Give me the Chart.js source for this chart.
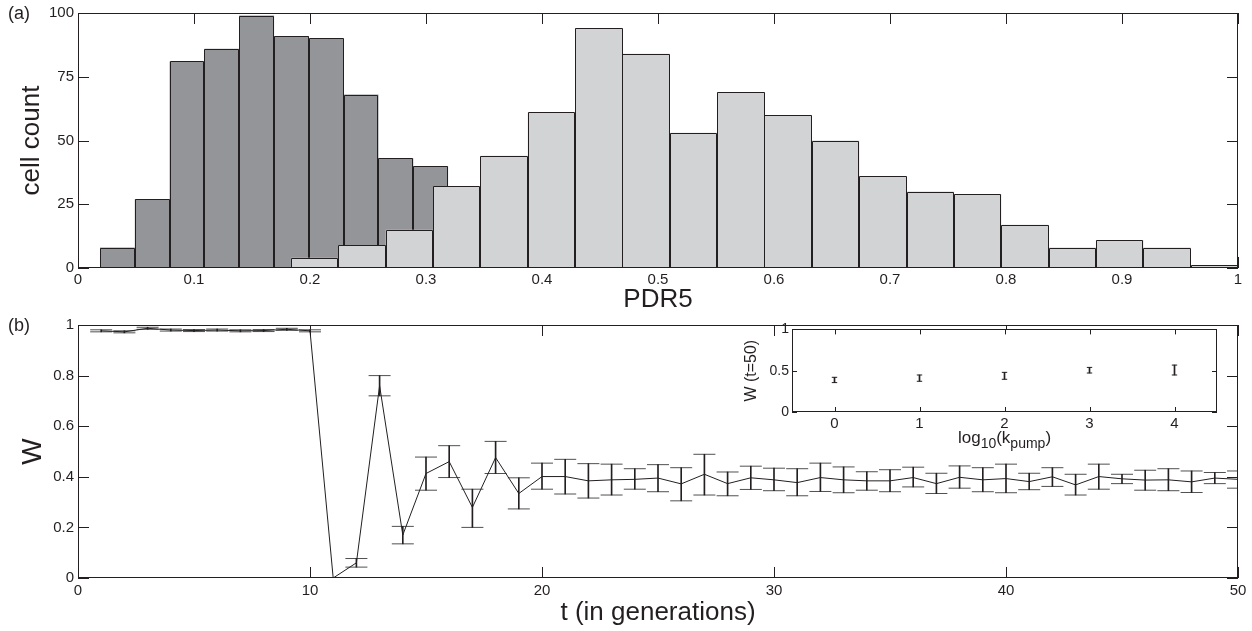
<!DOCTYPE html>
<html>
<head>
<meta charset="utf-8">
<script src="https://cdn.jsdelivr.net/npm/chart.js@4.4.1/dist/chart.umd.min.js"></script>
<style>
html,body{margin:0;padding:0;background:#fff;}
#wrap{position:relative;width:1252px;height:631px;overflow:hidden;background:#fff;}
canvas{position:absolute;}
.lbl{position:absolute;font-family:"Liberation Sans",Arial,Helvetica,sans-serif;font-size:18px;line-height:1;color:#231f20;}
</style>
</head>
<body>
<div id="wrap">
  <canvas id="top" width="1252" height="320" style="left:0;top:0"></canvas>
  <canvas id="bot" width="1252" height="319" style="left:0;top:312px"></canvas>
  <canvas id="ins" width="500" height="140" style="left:740px;top:318px"></canvas>
  <div class="lbl" style="left:8px;top:4px">(a)</div>
  <div class="lbl" style="left:8px;top:316px">(b)</div>
</div>
<script>
// ---------- (a) histogram data ----------
const darkBinCenters = [0.034, 0.064, 0.094, 0.124, 0.154, 0.184, 0.214, 0.244, 0.274, 0.304];
const darkCounts     = [8, 27, 81, 86, 99, 91, 90, 68, 43, 40];
const lightBinCenters = [0.2040, 0.2448, 0.2857, 0.3265, 0.3673, 0.4082, 0.4490, 0.4898, 0.5306, 0.5714,
                         0.6122, 0.6531, 0.6939, 0.7347, 0.7755, 0.8163, 0.8571, 0.8980, 0.9388, 0.9796];
const lightCounts     = [4, 9, 15, 32, 44, 61, 94, 84, 53, 69, 60, 50, 36, 30, 29, 17, 8, 11, 8, 1];
const pdrTicks = [0, 0.1, 0.2, 0.3, 0.4, 0.5, 0.6, 0.7, 0.8, 0.9, 1];
const countTicks = [0, 25, 50, 75, 100];

// ---------- (b) W vs t data ----------
const tGen = [1,2,3,4,5,6,7,8,9,10,11,12,13,14,15,16,17,18,19,20,21,22,23,24,25,26,27,28,29,30,
              31,32,33,34,35,36,37,38,39,40,41,42,43,44,45,46,47,48,49,50];
const W = [0.977,0.973,0.987,0.980,0.978,0.980,0.977,0.978,0.983,0.977,
           0.0,0.06,0.76,0.17,0.413,0.46,0.279,0.476,0.334,0.401,
           0.401,0.384,0.388,0.39,0.395,0.372,0.41,0.373,0.396,0.388,
           0.377,0.397,0.388,0.384,0.384,0.397,0.373,0.398,0.388,0.393,
           0.381,0.4,0.368,0.401,0.392,0.387,0.388,0.38,0.395,0.39];
const wLow = [0.973,0.969,0.983,0.976,0.974,0.976,0.973,0.974,0.979,0.973,
              0,0.043,0.72,0.135,0.347,0.397,0.20,0.413,0.273,0.351,
              0.332,0.316,0.328,0.351,0.341,0.305,0.328,0.325,0.35,0.345,
              0.325,0.342,0.337,0.347,0.341,0.36,0.334,0.355,0.341,0.337,
              0.349,0.362,0.328,0.351,0.373,0.347,0.345,0.338,0.373,0.355];
const wHigh = [0.981,0.977,0.991,0.984,0.982,0.984,0.981,0.982,0.987,0.981,
               0,0.077,0.80,0.204,0.478,0.523,0.351,0.54,0.396,0.454,
               0.469,0.452,0.45,0.432,0.448,0.436,0.489,0.419,0.442,0.434,
               0.432,0.454,0.439,0.42,0.428,0.438,0.414,0.443,0.436,0.45,
               0.414,0.436,0.41,0.45,0.41,0.426,0.432,0.423,0.417,0.423];

// ---------- inset data ----------
const logK = [0, 1, 2, 3, 4];
const insetW = [0.39, 0.41, 0.44, 0.505, 0.51];
const insetLow = [0.356, 0.372, 0.396, 0.472, 0.448];
const insetHigh = [0.42, 0.448, 0.48, 0.54, 0.568];
const insetXLabel = [['log', 0], ['10', 1], ['(k', 0], ['pump', 1], [')', 0]];

// ---------- styling ----------
const FONT = '"Liberation Sans", Arial, Helvetica, sans-serif';
const INK = '#231f20';
Chart.defaults.font.family = FONT;
Chart.defaults.color = INK;

const fmt = v => String(+Number(v).toFixed(3));

const framePlugin = {
  id: 'frame',
  beforeDatasetsDraw(chart, args, o) {
    const ctx = chart.ctx, a = chart.chartArea, L = o.len;
    const xs = chart.scales.x, ys = chart.scales.y;
    ctx.save();
    ctx.strokeStyle = o.color; ctx.lineWidth = 1;
    ctx.beginPath();
    xs.ticks.forEach((t, i) => {
      const p = Math.round(xs.getPixelForTick(i)) + 0.5;
      ctx.moveTo(p, a.bottom); ctx.lineTo(p, a.bottom - L);
      ctx.moveTo(p, a.top); ctx.lineTo(p, a.top + L);
    });
    ys.ticks.forEach((t, i) => {
      const p = Math.round(ys.getPixelForTick(i)) + 0.5;
      ctx.moveTo(a.left, p); ctx.lineTo(a.left + L, p);
      ctx.moveTo(a.right, p); ctx.lineTo(a.right - L, p);
    });
    ctx.stroke();
    ctx.restore();
  },
  afterDatasetsDraw(chart, args, o) {
    const ctx = chart.ctx, a = chart.chartArea;
    ctx.save();
    ctx.strokeStyle = o.color; ctx.lineWidth = o.width;
    const l = Math.round(a.left) + 0.5, r = Math.round(a.right) - 0.5;
    const t = Math.round(a.top) + 0.5, b = Math.round(a.bottom) - 0.5;
    ctx.strokeRect(l, t, r - l, b - t);
    ctx.restore();
  }
};

// outlines each histogram bar from the bar elements' own geometry (shared 1px edges)
const outlinePlugin = {
  id: 'outline',
  afterDatasetDraw(chart, args, o) {
    const meta = args.meta;
    if (meta.type !== 'bar') return;
    const ctx = chart.ctx;
    ctx.save();
    ctx.strokeStyle = o.color; ctx.lineWidth = 1;
    ctx.beginPath();
    meta.data.forEach(el => {
      const p = el.getProps(['x', 'y', 'base', 'width'], true);
      const l = Math.round(p.x - p.width / 2) + 0.5;
      const r = Math.round(p.x + p.width / 2) - 0.5;
      const top = Math.round(p.y) + 0.5;
      const b = Math.round(p.base);
      ctx.moveTo(l, b); ctx.lineTo(l, top); ctx.lineTo(r, top); ctx.lineTo(r, b);
    });
    ctx.stroke();
    ctx.restore();
  }
};

const whiteArea = {
  id: 'whiteArea',
  beforeDraw(chart) {
    const ctx = chart.ctx, a = chart.chartArea;
    ctx.save(); ctx.fillStyle = '#fff';
    ctx.fillRect(a.left, a.top, a.right - a.left, a.bottom - a.top);
    ctx.restore();
  }
};

const subLabel = {
  id: 'subLabel',
  afterDraw(chart, args, o) {
    const ctx = chart.ctx, a = chart.chartArea;
    ctx.save();
    ctx.fillStyle = INK; ctx.textBaseline = 'alphabetic'; ctx.textAlign = 'left';
    let total = 0;
    const sizes = insetXLabel.map(([s, sub]) => {
      ctx.font = (sub ? o.subSize : o.size) + 'px ' + FONT;
      const w = ctx.measureText(s).width; total += w; return w;
    });
    let x = (a.left + a.right) / 2 - total / 2;
    const y = a.bottom + o.dy;
    insetXLabel.forEach(([s, sub], i) => {
      ctx.font = (sub ? o.subSize : o.size) + 'px ' + FONT;
      ctx.fillText(s, x, y + (sub ? o.subShift : 0));
      x += sizes[i];
    });
    ctx.restore();
  }
};

const noGrid = { display: false, drawTicks: false };
const noBorder = { display: false };

// ---------- (a) ----------
const histBar = { borderWidth: 0, barPercentage: 1.003, categoryPercentage: 1, grouped: false };
new Chart(document.getElementById('top'), {
  type: 'bar',
  data: {
    datasets: [
      Object.assign({
        label: 'light', xAxisID: 'xl', yAxisID: 'y', order: 0,
        data: lightBinCenters.map((x, i) => ({ x, y: lightCounts[i] })),
        backgroundColor: '#d1d3d4'
      }, histBar),
      Object.assign({
        label: 'dark', xAxisID: 'xd', yAxisID: 'y', order: 1,
        data: darkBinCenters.map((x, i) => ({ x, y: darkCounts[i] })),
        backgroundColor: '#939598'
      }, histBar)
    ]
  },
  options: {
    responsive: false, animation: false, events: [], devicePixelRatio: 1,
    layout: { padding: { left: 0, right: 14, top: 11, bottom: 0 } },
    plugins: { legend: { display: false }, tooltip: { enabled: false },
               frame: { len: 11, color: INK, width: 1 },
               outline: { color: INK } },
    scales: {
      x: {
        type: 'linear', position: 'bottom', min: 0, max: 1, offset: false,
        afterBuildTicks: s => { s.ticks = pdrTicks.map(v => ({ value: v })); },
        ticks: { padding: 3, font: { size: 15 }, color: INK, callback: fmt, maxRotation: 0, autoSkip: false },
        grid: noGrid, border: noBorder,
        title: { display: true, text: 'PDR5', font: { size: 26 }, color: INK, padding: { top: 0, bottom: 5 } },
        afterFit: s => { s.height = 52; }
      },
      xd: { type: 'linear', display: false, min: 0, max: 1, offset: false, grid: { offset: false } },
      xl: { type: 'linear', display: false, min: 0, max: 1, offset: false, grid: { offset: false } },
      y: {
        type: 'linear', min: 0, max: 100,
        afterBuildTicks: s => { s.ticks = countTicks.map(v => ({ value: v })); },
        ticks: { padding: 4, font: { size: 15 }, color: INK, callback: fmt },
        grid: noGrid, border: noBorder,
        title: { display: true, text: 'cell count', font: { size: 26 }, color: INK, padding: { top: 16, bottom: 0 } },
        afterFit: s => { s.width = 78; }
      }
    }
  },
  plugins: [framePlugin, outlinePlugin]
});

// ---------- (b) ----------
const capStyle = { type: 'scatter', pointStyle: 'line', pointRadius: 11, pointBorderWidth: 1,
                   borderColor: '#505050', pointBorderColor: '#505050', backgroundColor: '#505050',
                   showLine: false, clip: 0 };
new Chart(document.getElementById('bot'), {
  type: 'line',
  data: {
    datasets: [
      { type: 'line', label: 'W', order: 0,
        data: tGen.map((t, i) => ({ x: t, y: W[i] })),
        borderColor: INK, borderWidth: 1, pointRadius: 0, tension: 0, fill: false },
      { type: 'bar', label: 'err', order: 1,
        data: tGen.map((t, i) => ({ x: t, y: [wLow[i], wHigh[i]] })),
        backgroundColor: INK, borderWidth: 0, barThickness: 1, grouped: false },
      Object.assign({ label: 'low', order: 2, data: tGen.map((t, i) => ({ x: t, y: wLow[i] })) }, capStyle),
      Object.assign({ label: 'high', order: 3, data: tGen.map((t, i) => ({ x: t, y: wHigh[i] })) }, capStyle)
    ]
  },
  options: {
    responsive: false, animation: false, events: [], devicePixelRatio: 1,
    layout: { padding: { left: 0, right: 14, top: 11, bottom: 0 } },
    plugins: { legend: { display: false }, tooltip: { enabled: false },
               frame: { len: 11, color: INK, width: 1 } },
    scales: {
      x: {
        type: 'linear', min: 0, max: 50, offset: false,
        ticks: { stepSize: 10, padding: 4, font: { size: 15 }, color: INK, callback: fmt, maxRotation: 0 },
        grid: noGrid, border: noBorder,
        title: { display: true, text: 't (in generations)', font: { size: 26 }, color: INK, padding: { top: 0, bottom: 3 } },
        afterFit: s => { s.height = 53; }
      },
      y: {
        type: 'linear', min: 0, max: 1,
        ticks: { stepSize: 0.2, padding: 4, font: { size: 15 }, color: INK, callback: fmt },
        grid: noGrid, border: noBorder,
        title: { display: true, text: 'W', font: { size: 28 }, color: INK, padding: { top: 16, bottom: 0 } },
        afterFit: s => { s.width = 78; }
      }
    }
  },
  plugins: [framePlugin]
});

// ---------- inset ----------
const insetCap = { type: 'scatter', pointStyle: 'line', pointRadius: 2.7, pointBorderWidth: 1,
                   borderColor: INK, pointBorderColor: INK, backgroundColor: INK, showLine: false };
new Chart(document.getElementById('ins'), {
  type: 'line',
  data: {
    datasets: [
      { type: 'bar', label: 'err', order: 0,
        data: logK.map((k, i) => ({ x: k, y: [insetLow[i], insetHigh[i]] })),
        backgroundColor: INK, borderWidth: 0, barThickness: 1, grouped: false },
      Object.assign({ label: 'low', order: 1, data: logK.map((k, i) => ({ x: k, y: insetLow[i] })) }, insetCap),
      Object.assign({ label: 'high', order: 2, data: logK.map((k, i) => ({ x: k, y: insetHigh[i] })) }, insetCap),
      { type: 'scatter', label: 'W50', order: 3, data: logK.map((k, i) => ({ x: k, y: insetW[i] })),
        pointRadius: 0, showLine: false }
    ]
  },
  options: {
    responsive: false, animation: false, events: [], devicePixelRatio: 1,
    layout: { padding: { left: 0, right: 23, top: 10, bottom: 0 } },
    plugins: { legend: { display: false }, tooltip: { enabled: false },
               frame: { len: 5, color: INK, width: 1 },
               subLabel: { size: 17, subSize: 14, dy: 31, subShift: 5 } },
    scales: {
      x: {
        type: 'linear', min: -0.5, max: 4.5, offset: false,
        afterBuildTicks: s => { s.ticks = logK.map(v => ({ value: v })); },
        ticks: { padding: 3, font: { size: 15 }, color: INK, callback: fmt, maxRotation: 0 },
        grid: noGrid, border: noBorder,
        afterFit: s => { s.height = 46; }
      },
      y: {
        type: 'linear', min: 0, max: 1,
        ticks: { stepSize: 0.5, padding: 3, font: { size: 14 }, color: INK, callback: fmt },
        grid: noGrid, border: noBorder,
        title: { display: true, text: 'W (t=50)', font: { size: 16 }, color: INK, padding: { top: 2, bottom: 0 } },
        afterFit: s => { s.width = 52; }
      }
    }
  },
  plugins: [whiteArea, framePlugin, subLabel]
});
</script>
</body>
</html>
